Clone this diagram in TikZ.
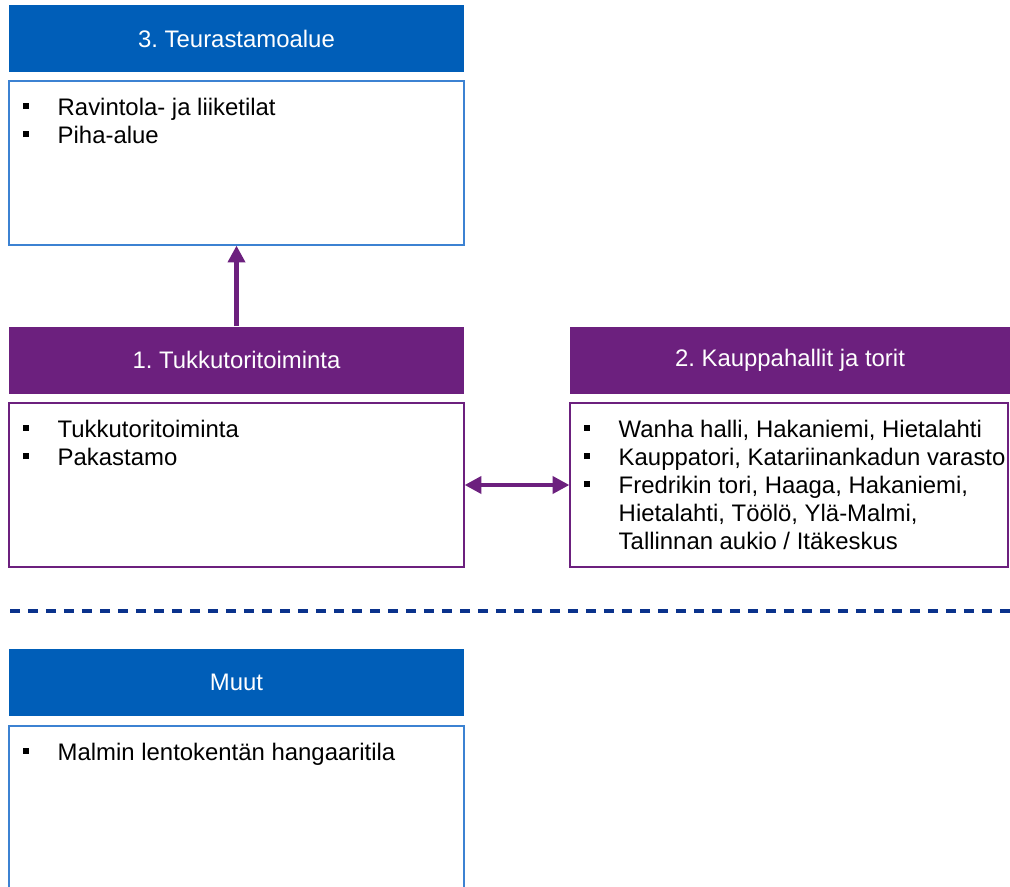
\documentclass[tikz,border=0pt]{standalone}
\usepackage{fontspec}
\setmainfont{Liberation Sans}
\usetikzlibrary{arrows.meta}
\definecolor{hdrblue}{RGB}{0,94,184}
\definecolor{lineblue}{RGB}{60,130,210}
\definecolor{hdrpurple}{RGB}{108,32,126}
\definecolor{dashblue}{RGB}{10,50,140}
\newlength\pxu
\setlength\pxu{0.025cm}
\newcommand\blt{\raisebox{4.6pt}{\rule{4.3pt}{4.3pt}}}
\frenchspacing
\tikzset{
    every node/.style={font=\fontsize{17}{20}\selectfont},
    header/.style={fill=#1, text=white, minimum width=455*\pxu,
        minimum height=67*\pxu, inner sep=0},
    content/.style={draw=#1, line width=0.8pt, minimum width=455*\pxu,
        minimum height=164*\pxu, inner sep=0},
    items/.style={anchor=base west, inner sep=0},
    link/.style={hdrpurple, line width=3pt,
        {Triangle[length=12pt, width=12pt]}-{Triangle[length=12pt, width=12pt]}},
    uplink/.style={hdrpurple, line width=3pt,
        -{Triangle[length=12pt, width=12pt]}},
}

\begin{document}
\begin{tikzpicture}[x=0.025cm, y=-0.025cm]
    \useasboundingbox (0,0) rectangle (1010,886);
    % 3. area
    \node[header=hdrblue] (hdr3) at (236.5,38.5) {3. Teurastamoalue};
    \node[content=lineblue] (box3) at (236.5,163) {};
    \node[items] (txt3) at ([shift={(14,35)}]box3.north west)
        {\begin{tabular}[t]{@{}p{24.9pt}@{}l@{}}
            \blt & Ravintola- ja liiketilat\\
            \blt & Piha-alue
        \end{tabular}};
    % 1. area
    \node[header=hdrpurple] (hdr1) at (236.5,360) {1. Tukkutoritoiminta};
    \node[content=hdrpurple] (box1) at (236.5,485) {};
    \node[items] (txt1) at ([shift={(14,35)}]box1.north west)
        {\begin{tabular}[t]{@{}p{24.9pt}@{}l@{}}
            \blt & Tukkutoritoiminta\\
            \blt & Pakastamo
        \end{tabular}};
    % 2. area
    \node[header=hdrpurple, minimum width=440*\pxu] (hdr2) at (790,360)
        {2. Kauppahallit ja torit};
    \node[content=hdrpurple, minimum width=438*\pxu] (box2) at (789,485) {};
    \node[items] (txt2) at ([shift={(14,35)}]box2.north west)
        {\begin{tabular}[t]{@{}p{24.9pt}@{}l@{}}
            \blt & Wanha halli, Hakaniemi, Hietalahti\\
            \blt & Kauppatori, Katariinankadun varasto\\
            \blt & Fredrikin tori, Haaga, Hakaniemi,\\
                 & Hietalahti, Töölö, Ylä-Malmi,\\
                 & Tallinnan aukio / Itäkeskus
        \end{tabular}};
    % others
    \node[header=hdrblue] (hdrm) at (236.5,682.5) {Muut};
    \node[content=lineblue] (boxm) at (236.5,808) {};
    \node[items] (txtm) at ([shift={(14,35)}]boxm.north west)
        {\begin{tabular}[t]{@{}p{24.9pt}@{}l@{}}
            \blt & Malmin lentokentän hangaaritila
        \end{tabular}};
    % links
    \draw[uplink] (hdr1.north) -- (box3.south);
    \draw[link] (box1.east) -- (box2.west);
    \draw[dashblue, line width=2.5pt, dash pattern=on 7.1pt off 5.7pt]
        (10,611) -- (1010,611);
\end{tikzpicture}
\end{document}
